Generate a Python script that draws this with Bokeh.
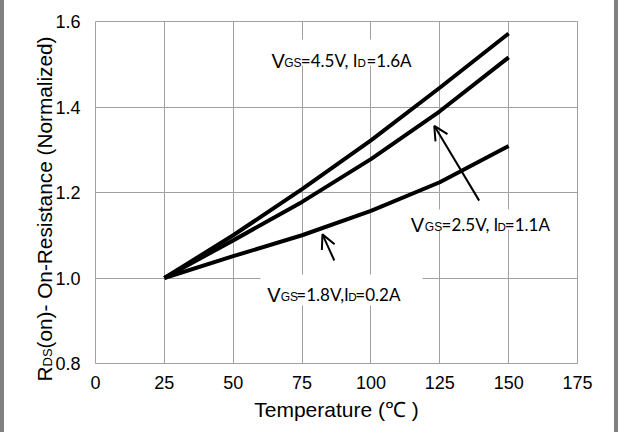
import math
from bokeh.plotting import figure
from bokeh.models import Label, Arrow, OpenHead, BoxAnnotation, FixedTicker, Range1d, PrintfTickFormatter
from bokeh.embed import file_html
from bokeh.resources import INLINE

# ---- data ----
temperature = [25, 50, 75, 100, 125, 150]
r_vgs45 = [1.000, 1.100, 1.208, 1.322, 1.445, 1.572]   # VGS=4.5V, ID=1.6A
r_vgs25 = [1.000, 1.088, 1.178, 1.278, 1.390, 1.516]   # VGS=2.5V, ID=1.1A
r_vgs18 = [1.000, 1.051, 1.100, 1.157, 1.224, 1.309]   # VGS=1.8V, ID=0.2A
x_ticks = [0, 25, 50, 75, 100, 125, 150, 175]
y_ticks = [0.8, 1.0, 1.2, 1.4, 1.6]

ARIAL = "Liberation Sans"
CALIBRI = "Lato"
GRID = "#a0a0a0"

p = figure(width=618, height=436, output_backend="svg", toolbar_location=None,
           x_range=Range1d(0, 175), y_range=Range1d(0.8, 1.6),
           min_border_left=91, min_border_right=45, min_border_top=21, min_border_bottom=73)
p.styles = {"margin-top": "-4px",
            "border-top": "4px solid #808080",
            "border-left": "4px solid #808080",
            "border-right": "4px solid #808080"}
p.background_fill_color = "white"
p.border_fill_color = "white"
p.outline_line_color = GRID
p.outline_line_width = 1

for ax, ticks in ((p.xaxis[0], x_ticks), (p.yaxis[0], y_ticks)):
    ax.ticker = FixedTicker(ticks=ticks, minor_ticks=[])
    ax.axis_line_color = None
    ax.major_tick_line_color = None
    ax.minor_tick_line_color = None
    ax.major_tick_out = 0
    ax.major_tick_in = 0
    ax.major_label_text_font = ARIAL
    ax.major_label_text_font_size = "18px"
    ax.major_label_text_color = "black"
p.xaxis[0].major_label_standoff = 12
p.yaxis[0].major_label_standoff = 15
p.yaxis[0].formatter = PrintfTickFormatter(format="%.1f")

p.xaxis[0].axis_label = "Temperature (\u2103 )"
p.xaxis[0].axis_label_text_font = "Liberation Sans"
p.xaxis[0].axis_label_text_font_size = "21px"
p.xaxis[0].axis_label_text_font_style = "normal"
p.xaxis[0].axis_label_text_color = "black"
p.xaxis[0].axis_label_standoff = 6

p.xgrid.grid_line_color = GRID
p.ygrid.grid_line_color = GRID

for ys in (r_vgs45, r_vgs25, r_vgs18):
    p.line(temperature, ys, line_color="black", line_width=4, line_join="round")

# white boxes behind the curve labels
for l, r, b, t in ((60.6, 118.7, 1.497, 1.558),
                   (112.2, 168.8, 1.1135, 1.160),
                   (59.9, 118.7, 0.9357, 1.008)):
    p.add_layout(BoxAnnotation(left=l, right=r, bottom=b, top=t, fill_color="white",
                               fill_alpha=1.0, line_color=None))

def lab(x, y, text, font, size, dx=0, dy=0, angle=0.0, place="center"):
    p.add_layout(Label(x=x, y=y, text=text, text_font=font, text_font_size=size,
                       x_offset=dx, y_offset=dy, angle=angle, text_color="black",
                       text_align="left", text_baseline="alphabetic"), place)

def curve_label(x, y, vgs, id_, offs):
    lab(x, y, "V", ARIAL, "20px", offs[0])
    lab(x, y, "GS", ARIAL, "12px", offs[1], -2)
    lab(x, y, "=" + vgs + "I", CALIBRI, "17px", offs[2])
    lab(x, y, "D", CALIBRI, "11px", offs[3], -2)
    lab(x, y, "=" + id_, CALIBRI, "17px", offs[4])

curve_label(63.9, 1.508, "4.5V, ", "1.6A", (0, 12.7, 29.3, 86.0, 95.0))
curve_label(114.5, 1.124, "2.5V, ", "1.1A", (0, 14.0, 30.7, 86.7, 94.0))
curve_label(62.4, 0.961, "1.8V,", "0.2A", (0, 13.3, 29.0, 80.8, 88.0))

# arrows pointing at the curves
p.add_layout(Arrow(end=OpenHead(size=14, line_width=2, line_color="black"),
                   x_start=139.3, y_start=1.181, x_end=123.0, y_end=1.356,
                   line_width=2, line_color="black"))
p.add_layout(Arrow(end=OpenHead(size=14, line_width=2, line_color="black"),
                   x_start=86.7, y_start=1.041, x_end=82.4, y_end=1.102,
                   line_width=2, line_color="black"))

# y-axis title with subscript (pieces kept in side panels so they are not clipped)
ROT = math.pi / 2
lab(-18.5, 0.758, "R", ARIAL, "20.8px", angle=ROT, place="right")
lab(-17.6, 0.793, "DS", ARIAL, "13px", angle=ROT, place="above")
lab(-18.5, 0.835, "(on)- On-Resistance (Normalized)", ARIAL, "20.8px", angle=ROT, place="left")

open("out.html", "w").write(file_html(p, INLINE))
